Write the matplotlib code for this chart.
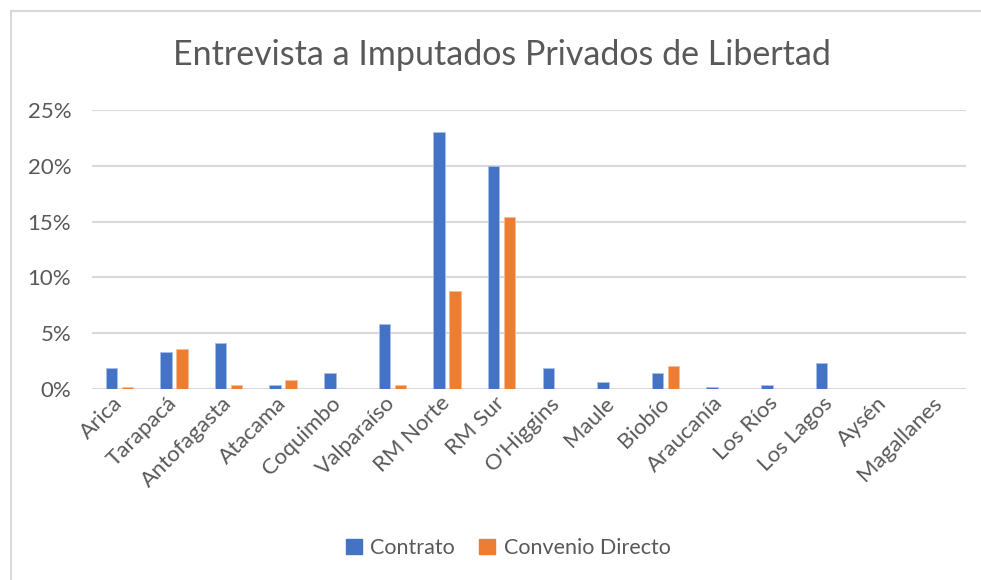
import numpy as np
import matplotlib
matplotlib.use("Agg")
import matplotlib.pyplot as plt
from matplotlib.patches import Patch, Rectangle
from matplotlib.ticker import PercentFormatter

regiones = ["Arica", "Tarapacá", "Antofagasta", "Atacama", "Coquimbo", "Valparaíso",
            "RM Norte", "RM Sur", "O'Higgins", "Maule", "Biobío", "Araucanía",
            "Los Ríos", "Los Lagos", "Aysén", "Magallanes"]
contrato = [1.9, 3.3, 4.1, 0.4, 1.4, 5.8, 23.0, 20.0, 1.9, 0.6, 1.4, 0.2, 0.4, 2.35, 0.0, 0.0]
convenio = [0.2, 3.55, 0.4, 0.85, 0.0, 0.4, 8.8, 15.4, 0.0, 0.0, 2.1, 0.0, 0.0, 0.0, 0.0, 0.0]

azul = "#4472C4"
naranja = "#ED7D31"
gris_texto = "#595959"
gris_linea = "#D9D9D9"

plt.rcParams['font.family'] = ['Lato', 'DejaVu Sans']

W, H = 981, 580
fig = plt.figure(figsize=(W / 100, H / 100), dpi=100)

# borde del gráfico (recortado a la derecha y abajo)
fig.patches.append(Rectangle((11 / W, -0.1), 1.2, 1 - 11 / H + 0.1, transform=fig.transFigure,
                             fill=False, edgecolor=gris_linea, linewidth=1.5))

ax = fig.add_axes([92 / W, 1 - 389 / H, (966 - 92) / W, (389 - 110) / H])

x = np.arange(len(regiones))
ancho = 0.21
ax.bar(x - 0.146, np.array(contrato) / 100, ancho, color=azul, edgecolor="#A9BEE8", linewidth=0.6, zorder=3)
ax.bar(x + 0.146, np.array(convenio) / 100, ancho, color=naranja, edgecolor="#F6BE98", linewidth=0.6, zorder=3)

ax.set_xlim(-0.5, len(regiones) - 0.5)
ax.set_ylim(0, 0.25)
ax.set_yticks(np.arange(0, 0.26, 0.05))
ax.yaxis.set_major_formatter(PercentFormatter(1.0, decimals=0))
ax.grid(axis="y", color=gris_linea, linewidth=1.5, zorder=0)
for s in ax.spines.values():
    s.set_visible(False)
ax.tick_params(length=0, colors=gris_texto, labelsize=16)
ax.tick_params(axis="y", pad=15)
ax.set_xticks(x)
ax.set_xticklabels(regiones, rotation=45, ha="right", va="center", rotation_mode="anchor")
ax.tick_params(axis="x", pad=8)

fig.text(502 / W, 1 - 55 / H, "Entrevista a Imputados Privados de Libertad", ha="center", va="center",
         fontsize=24.5, color=gris_texto)

handles = [Patch(color=azul, label="Contrato"), Patch(color=naranja, label="Convenio Directo")]
fig.legend(handles=handles, loc="center", bbox_to_anchor=(508 / W, 1 - 548 / H), ncol=2, frameon=False,
           fontsize=15.5, labelcolor=gris_texto, handlelength=0.75, handleheight=0.75, handletextpad=0.4,
           columnspacing=1.1)

fig.savefig("out.png", dpi=100)
